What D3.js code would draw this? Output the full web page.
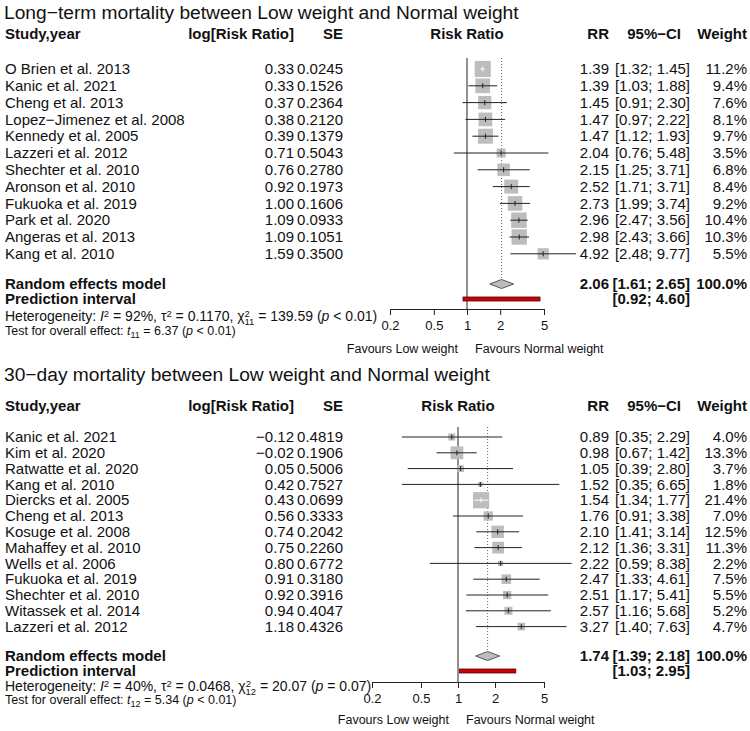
<!DOCTYPE html>
<html>
<head>
<meta charset="utf-8">
<script src="https://cdn.jsdelivr.net/npm/d3@7"></script>
<style>
  body { margin: 0; background: #fff; }
  svg text { font-family: "Liberation Sans", Arial, Helvetica, sans-serif; fill: #111; }
</style>
</head>
<body>
<svg id="chart" width="750" height="731"></svg>
<script>
// ---- data: long-term mortality ----
var ltStudies = ["O Brien et al. 2013", "Kanic et al. 2021", "Cheng et al. 2013", "Lopez\u2212Jimenez et al. 2008",
    "Kennedy et al. 2005", "Lazzeri et al. 2012", "Shechter et al. 2010", "Aronson et al. 2010",
    "Fukuoka et al. 2019", "Park et al. 2020", "Angeras et al. 2013", "Kang et al. 2010"];
var ltLogRR = ["0.33", "0.33", "0.37", "0.38", "0.39", "0.71", "0.76", "0.92", "1.00", "1.09", "1.09", "1.59"];
var ltSE = ["0.0245", "0.1526", "0.2364", "0.2120", "0.1379", "0.5043", "0.2780", "0.1973", "0.1606", "0.0933", "0.1051", "0.3500"];
var ltRR = [1.39, 1.39, 1.45, 1.47, 1.47, 2.04, 2.15, 2.52, 2.73, 2.96, 2.98, 4.92];
var ltLower = [1.32, 1.03, 0.91, 0.97, 1.12, 0.76, 1.25, 1.71, 1.99, 2.47, 2.43, 2.48];
var ltUpper = [1.45, 1.88, 2.30, 2.22, 1.93, 5.48, 3.71, 3.71, 3.74, 3.56, 3.66, 9.77];
var ltWeight = [11.2, 9.4, 7.6, 8.1, 9.7, 3.5, 6.8, 8.4, 9.2, 10.4, 10.3, 5.5];
var ltPooled = [2.06, 1.61, 2.65];
var ltPredict = [0.92, 4.60];

// ---- data: 30-day mortality ----
var sdStudies = ["Kanic et al. 2021", "Kim et al. 2020", "Ratwatte et al. 2020", "Kang et al. 2010",
    "Diercks et al. 2005", "Cheng et al. 2013", "Kosuge et al. 2008", "Mahaffey et al. 2010",
    "Wells et al. 2006", "Fukuoka et al. 2019", "Shechter et al. 2010", "Witassek et al. 2014", "Lazzeri et al. 2012"];
var sdLogRR = ["\u22120.12", "\u22120.02", "0.05", "0.42", "0.43", "0.56", "0.74", "0.75", "0.80", "0.91", "0.92", "0.94", "1.18"];
var sdSE = ["0.4819", "0.1906", "0.5006", "0.7527", "0.0699", "0.3333", "0.2042", "0.2260", "0.6772", "0.3180", "0.3916", "0.4047", "0.4326"];
var sdRR = [0.89, 0.98, 1.05, 1.52, 1.54, 1.76, 2.10, 2.12, 2.22, 2.47, 2.51, 2.57, 3.27];
var sdLower = [0.35, 0.67, 0.39, 0.35, 1.34, 0.91, 1.41, 1.36, 0.59, 1.33, 1.17, 1.16, 1.40];
var sdUpper = [2.29, 1.42, 2.80, 6.65, 1.77, 3.38, 3.14, 3.31, 8.38, 4.61, 5.41, 5.68, 7.63];
var sdWeight = [4.0, 13.3, 3.7, 1.8, 21.4, 7.0, 12.5, 11.3, 2.2, 7.5, 5.5, 5.2, 4.7];
var sdPooled = [1.74, 1.39, 2.18];
var sdPredict = [1.03, 2.95];

var tickValues = [0.2, 0.5, 1, 2, 5];
var headers = { study: "Study,year", logrr: "log[Risk Ratio]", se: "SE", plot: "Risk Ratio", rr: "RR", ci: "95%\u2212CI", w: "Weight" };

var svg = d3.select("#chart");
var fmt2 = d3.format(".2f"), fmt1 = d3.format(".1f");

// column right edges
var col = { logrr: 294, se: 343, rr: 609, ci: 690, w: 747 };

function drawPanel(cfg) {
    var g = svg.append("g");
    var x = d3.scaleLog().domain([0.2, 5]).range(cfg.xRange);
    var y = function (i) { return cfg.firstRow + i * cfg.rowStep; };

    // title
    g.append("text").attr("x", 4).attr("y", cfg.titleY).attr("dy", "0.35em")
        .style("font-size", "19.2px").text(cfg.title);

    // header row
    var hdr = g.append("g").style("font-weight", "bold").style("font-size", "15px");
    hdr.append("text").attr("x", 5).attr("y", cfg.headerY).attr("dy", "0.35em").text(headers.study);
    hdr.append("text").attr("x", col.logrr).attr("y", cfg.headerY).attr("dy", "0.35em").attr("text-anchor", "end").text(headers.logrr);
    hdr.append("text").attr("x", col.se).attr("y", cfg.headerY).attr("dy", "0.35em").attr("text-anchor", "end").text(headers.se);
    hdr.append("text").attr("x", d3.mean(cfg.xRange)).attr("y", cfg.headerY).attr("dy", "0.35em").attr("text-anchor", "middle").text(headers.plot);
    hdr.append("text").attr("x", col.rr).attr("y", cfg.headerY).attr("dy", "0.35em").attr("text-anchor", "end").text(headers.rr);
    hdr.append("text").attr("x", 681).attr("y", cfg.headerY).attr("dy", "0.35em").attr("text-anchor", "end").text(headers.ci);
    hdr.append("text").attr("x", col.w).attr("y", cfg.headerY).attr("dy", "0.35em").attr("text-anchor", "end").text(headers.w);

    // study rows text
    var rows = g.selectAll(".row").data(cfg.studies).enter().append("g")
        .style("font-size", "15px");
    rows.append("text").attr("x", 5).attr("y", function (d, i) { return y(i); }).attr("dy", "0.35em").text(function (d) { return d; });
    rows.append("text").attr("x", col.logrr).attr("y", function (d, i) { return y(i); }).attr("dy", "0.35em").attr("text-anchor", "end")
        .text(function (d, i) { return cfg.logrr[i]; });
    rows.append("text").attr("x", col.se).attr("y", function (d, i) { return y(i); }).attr("dy", "0.35em").attr("text-anchor", "end")
        .text(function (d, i) { return cfg.se[i]; });
    rows.append("text").attr("x", col.rr).attr("y", function (d, i) { return y(i); }).attr("dy", "0.35em").attr("text-anchor", "end")
        .text(function (d, i) { return fmt2(cfg.rr[i]); });
    rows.append("text").attr("x", col.ci).attr("y", function (d, i) { return y(i); }).attr("dy", "0.35em").attr("text-anchor", "end")
        .text(function (d, i) { return "[" + fmt2(cfg.lower[i]) + "; " + fmt2(cfg.upper[i]) + "]"; });
    rows.append("text").attr("x", col.w).attr("y", function (d, i) { return y(i); }).attr("dy", "0.35em").attr("text-anchor", "end")
        .text(function (d, i) { return fmt1(cfg.weight[i]) + "%"; });

    // summary rows text
    var sum = g.append("g").style("font-weight", "bold").style("font-size", "15px");
    sum.append("text").attr("x", 5).attr("y", cfg.pooledY).attr("dy", "0.35em").text("Random effects model");
    sum.append("text").attr("x", 5).attr("y", cfg.predictY).attr("dy", "0.35em").text("Prediction interval");
    sum.append("text").attr("x", col.rr).attr("y", cfg.pooledY).attr("dy", "0.35em").attr("text-anchor", "end")
        .text(fmt2(cfg.pooled[0]));
    sum.append("text").attr("x", col.ci).attr("y", cfg.pooledY).attr("dy", "0.35em").attr("text-anchor", "end")
        .text("[" + fmt2(cfg.pooled[1]) + "; " + fmt2(cfg.pooled[2]) + "]");
    sum.append("text").attr("x", col.w).attr("y", cfg.pooledY).attr("dy", "0.35em").attr("text-anchor", "end")
        .text("100.0%");
    sum.append("text").attr("x", col.ci).attr("y", cfg.predictY).attr("dy", "0.35em").attr("text-anchor", "end")
        .text("[" + fmt2(cfg.predict[0]) + "; " + fmt2(cfg.predict[1]) + "]");

    // heterogeneity
    var het = g.append("text").attr("x", 5).attr("y", cfg.hetY + 5).style("font-size", "14px");
    het.append("tspan").text("Heterogeneity: ");
    het.append("tspan").style("font-style", "italic").text("I");
    het.append("tspan").attr("dy", -4).style("font-size", "9.5px").text("2");
    het.append("tspan").attr("dy", 4).text(" = " + cfg.het.i2 + ", \u03c4");
    het.append("tspan").attr("dy", -4).style("font-size", "9.5px").text("2");
    het.append("tspan").attr("dy", 4).text(" = " + cfg.het.tau2 + ", \u03c7");
    het.append("tspan").attr("dy", -4).style("font-size", "9.5px").text("2");
    het.append("tspan").attr("dx", -5.5).attr("dy", 7.5).style("font-size", "9.5px").text(cfg.het.df);
    het.append("tspan").attr("dy", -3.5).text(" = " + cfg.het.chi + " (");
    het.append("tspan").style("font-style", "italic").text("p");
    het.append("tspan").text(" " + cfg.het.p + ")");

    var tst = g.append("text").attr("x", 5).attr("y", cfg.testY + 4).style("font-size", "12.5px");
    tst.append("tspan").text("Test for overall effect: ");
    tst.append("tspan").style("font-style", "italic").text("t");
    tst.append("tspan").attr("dy", 2.5).style("font-size", "9px").text(cfg.het.df);
    tst.append("tspan").attr("dy", -2.5).text(" = " + cfg.test + " (");
    tst.append("tspan").style("font-style", "italic").text("p");
    tst.append("tspan").text(" < 0.01)");

    // reference lines
    g.append("line").attr("x1", x(1)).attr("x2", x(1)).attr("y1", cfg.plotTop).attr("y2", cfg.axisY)
        .attr("stroke", "#222").attr("stroke-width", 1);
    g.append("line").attr("x1", x(cfg.pooled[0])).attr("x2", x(cfg.pooled[0]))
        .attr("y1", cfg.plotTop).attr("y2", cfg.pooledY - 4)
        .attr("stroke", "#666").attr("stroke-width", 1).attr("stroke-dasharray", "1,2");

    // study marks
    var marks = g.selectAll(".mark").data(cfg.studies).enter().append("g");
    marks.each(function (d, i) {
        var m = d3.select(this);
        var cx = x(cfg.rr[i]), cy = y(i);
        var side = cfg.sizeK * Math.sqrt(cfg.weight[i]);
        var lo = x(cfg.lower[i]), hi = x(cfg.upper[i]);
        var inside = lo >= cx - side / 2 && hi <= cx + side / 2;
        m.append("rect").attr("x", cx - side / 2).attr("y", cy - side / 2)
            .attr("width", side).attr("height", side).attr("fill", "#bdbdbd");
        m.append("line").attr("x1", lo).attr("x2", hi).attr("y1", cy).attr("y2", cy)
            .attr("stroke", inside ? "#fff" : "#222").attr("stroke-width", 1);
        m.append("line").attr("x1", cx).attr("x2", cx).attr("y1", cy - 2.5).attr("y2", cy + 2.5)
            .attr("stroke", inside ? "#fff" : "#222").attr("stroke-width", 1);
    });

    // pooled diamond
    var pd = [[x(cfg.pooled[1]), cfg.pooledY], [x(cfg.pooled[0]), cfg.pooledY - 4.5],
        [x(cfg.pooled[2]), cfg.pooledY], [x(cfg.pooled[0]), cfg.pooledY + 4.5]];
    g.append("path").attr("d", d3.line()(pd) + "Z").attr("fill", "#bdbdbd").attr("stroke", "#555");

    // prediction interval bar
    g.append("rect").attr("x", x(cfg.predict[0])).attr("width", x(cfg.predict[1]) - x(cfg.predict[0]))
        .attr("y", cfg.predictY - 2).attr("height", 4).attr("fill", "#cc0000").attr("stroke", "#5a0000").attr("stroke-width", 0.8);

    // axis
    var axis = g.append("g").attr("transform", "translate(0," + cfg.axisY + ")")
        .call(d3.axisBottom(x).tickValues(tickValues).tickFormat(d3.format("")).tickSize(6).tickSizeOuter(0).tickPadding(6));
    axis.select(".domain").attr("stroke", "#222");
    axis.selectAll(".tick line").attr("stroke", "#222");
    axis.selectAll(".tick text").style("font-size", "13px").style("font-family", "\"Liberation Sans\", Arial, sans-serif").attr("fill", "#111");

    g.append("text").attr("x", x(1) - 9).attr("y", cfg.favY).attr("dy", "0.35em").attr("text-anchor", "end")
        .style("font-size", "12.5px").text("Favours Low weight");
    g.append("text").attr("x", x(1) + 8).attr("y", cfg.favY).attr("dy", "0.35em")
        .style("font-size", "12.5px").text("Favours Normal weight");
}

drawPanel({
    title: "Long\u2212term mortality between Low weight and Normal weight",
    studies: ltStudies, logrr: ltLogRR, se: ltSE, rr: ltRR, lower: ltLower, upper: ltUpper, weight: ltWeight,
    pooled: ltPooled, predict: ltPredict,
    het: { i2: "92%", tau2: "0.1170", df: "11", chi: "139.59", p: "< 0.01" }, test: "6.37",
    xRange: [390, 544], sizeK: 4.8,
    titleY: 12, headerY: 34, firstRow: 69, rowStep: 16.8, plotTop: 58,
    pooledY: 284, predictY: 299, hetY: 316, testY: 331, axisY: 309, favY: 349
});

drawPanel({
    title: "30\u2212day mortality between Low weight and Normal weight",
    studies: sdStudies, logrr: sdLogRR, se: sdSE, rr: sdRR, lower: sdLower, upper: sdUpper, weight: sdWeight,
    pooled: sdPooled, predict: sdPredict,
    het: { i2: "40%", tau2: "0.0468", df: "12", chi: "20.07", p: "= 0.07" }, test: "5.34",
    xRange: [372, 544], sizeK: 3.5,
    titleY: 374, headerY: 406, firstRow: 437, rowStep: 15.8, plotTop: 427,
    pooledY: 656, predictY: 671, hetY: 686, testY: 700, axisY: 682, favY: 720
});
</script>
</body>
</html>
